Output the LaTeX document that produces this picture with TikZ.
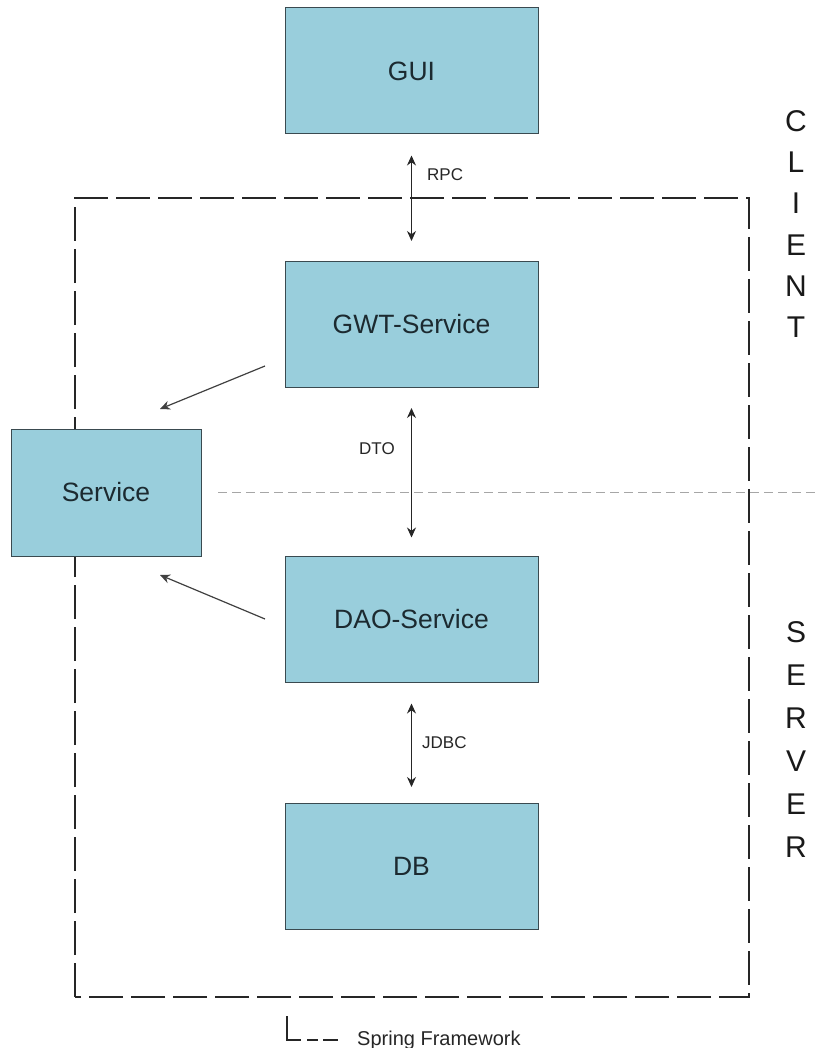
\documentclass[tikz,border=0pt]{standalone}
\usepackage{fontspec}
\setmainfont{Liberation Sans}
\usetikzlibrary{arrows.meta}
\definecolor{boxblue}{HTML}{99CEDC}
\definecolor{boxline}{HTML}{3A4A50}
\definecolor{boxtext}{HTML}{1C2A30}
\begin{document}
\begin{tikzpicture}[x=1pt,y=-1pt,
  blk/.style={draw=boxline,line width=1pt,fill=boxblue,text=boxtext,minimum width=253pt,minimum height=126pt,inner sep=0pt,font=\fontsize{26.5}{30}\selectfont},
  lbl/.style={font=\fontsize{17}{20}\selectfont,inner sep=0pt,text=black!85},
  conn/.style={line width=1.2pt,draw=black!85,{Stealth[length=10pt,width=9pt]}-{Stealth[length=10pt,width=9pt]}},
  sarrow/.style={line width=1.2pt,draw=black!75,-{Stealth[length=10pt,width=9pt]}},
  frame/.style={line width=1.5pt,draw=black!85,dash pattern=on 34pt off 8pt}]
\useasboundingbox (0,0) rectangle (819,1048);
% spring framework frame
\draw[frame] (75,997) -- (75,198) -- (749,198) -- (749,997) -- cycle;
% dashed client/server divider
\draw[draw=black!35,line width=1pt,dash pattern=on 9pt off 5pt] (218,492) -- (819,492);
% boxes
\node[blk] (gui) at (411.5,71) {GUI};
\node[blk] (gwt) at (411.5,324.5) {GWT-Service};
\node[blk,minimum width=190pt,minimum height=127pt] (svc) at (106,492.5) {Service};
\node[blk] (dao) at (411.5,619) {DAO-Service};
\node[blk] (db) at (411.5,866.5) {DB};
% connectors
\draw[conn] ([yshift=-21pt]gui.south) -- ([yshift=20pt]gwt.north);
\node[lbl,anchor=west] (rpc) at (427,175) {RPC};
\draw[conn] ([yshift=-20pt]gwt.south) -- ([yshift=18pt]dao.north);
\node[lbl] (dto) at (377,449) {DTO};
\draw[conn] ([yshift=-21pt]dao.south) -- ([yshift=16pt]db.north);
\node[lbl,anchor=west] (jdbc) at (422,743) {JDBC};
\coordinate (g1) at (265,366);
\coordinate (g2) at (160,409);
\coordinate (d1) at (265,619);
\coordinate (d2) at (160,575);
\draw[sarrow] (g1) -- (g2);
\draw[sarrow] (d1) -- (d2);
% side labels
\node[align=center,inner sep=0pt,text=black!90,font=\fontsize{30}{41.3}\selectfont] (client) at (796,224) {C\\L\\I\\E\\N\\T};
\node[align=center,inner sep=0pt,text=black!90,font=\fontsize{30}{43}\selectfont] (server) at (796,740) {S\\E\\R\\V\\E\\R};
% legend
\draw[line width=1.5pt,draw=black!85] (287,1016) -- (287,1040) -- (301,1040);
\draw[line width=1.5pt,draw=black!85] (307,1040) -- (318,1040) (323,1040) -- (338,1040);
\node[lbl,anchor=base west,font=\fontsize{20}{24}\selectfont] (legend) at (357,1045) {Spring Framework};
\end{tikzpicture}
\end{document}
